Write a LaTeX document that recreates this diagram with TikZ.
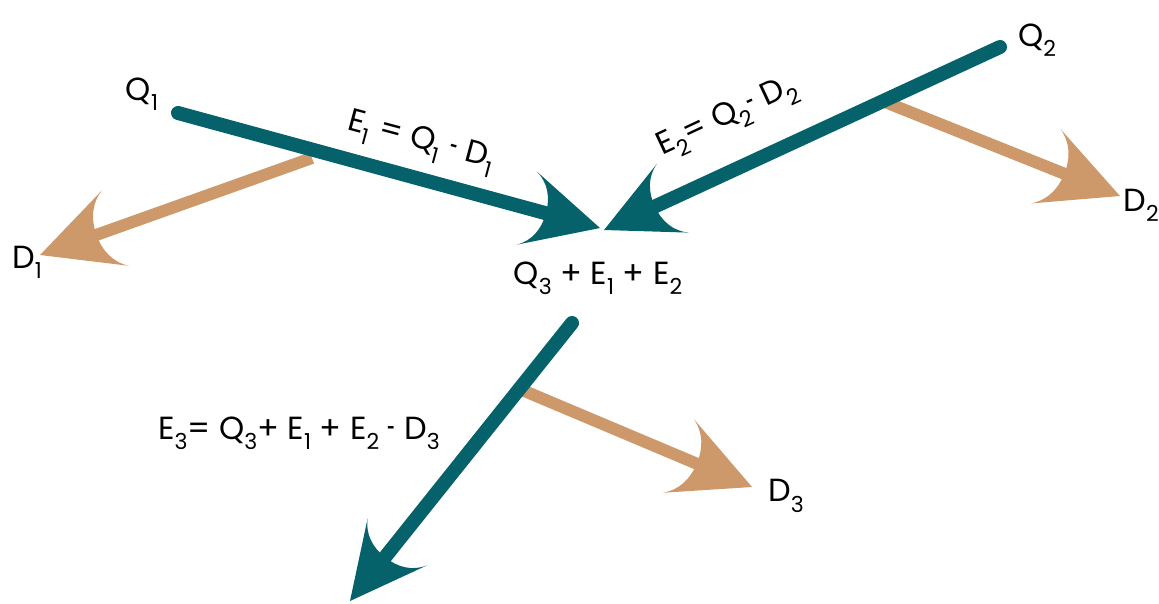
\documentclass[tikz,border=0pt]{standalone}
\usepackage{fontspec}
\setmainfont{Poppins}
\usetikzlibrary{calc}
\definecolor{tealc}{RGB}{5,97,106}
\definecolor{tanc}{RGB}{205,153,107}
\newcommand{\sbx}[1]{\raisebox{-0.32em}{\fontsize{22}{24}\selectfont #1}}
\newcommand{\mn}{\scalebox{0.45}[1]{-}}
\tikzset{
  lbl/.style={font=\fontsize{32}{36}\selectfont, inner sep=0pt},
  eline/.style={line width=14pt, color=tealc, line cap=round},
  dline/.style={line width=12pt, color=tanc},
  pics/head/.style={code={
    \fill[#1] (0pt,0pt) -- (-76pt,38pt) .. controls (-62pt,30pt) and (-56pt,16pt) .. (-56pt,0pt)
      .. controls (-56pt,-16pt) and (-62pt,-30pt) .. (-76pt,-38pt) -- cycle;
  }},
  pics/dhead/.style={code={
    \fill[#1] (0pt,0pt) -- (-80pt,40pt) .. controls (-66pt,31pt) and (-60pt,17pt) .. (-60pt,0pt)
      .. controls (-60pt,-17pt) and (-66pt,-31pt) .. (-80pt,-40pt) -- cycle;
  }}
}
\begin{document}
\begin{tikzpicture}[x=1pt,y=-1pt]
\useasboundingbox (0,0) rectangle (1159,603);
% coordinates
\coordinate (q1s) at (178,113);
\coordinate (c1) at (600,228);
\coordinate (q2s) at (1000,47);
\coordinate (c2) at (604,230);
\coordinate (q3s) at (572,323);
\coordinate (c3) at (350,601);
\coordinate (d1s) at (312,158);
\coordinate (d1t) at (40,255);
\coordinate (d2s) at (885,102);
\coordinate (d2t) at (1120,196);
\coordinate (d3s) at (522,390);
\coordinate (d3t) at (752,487);
% tan arrows (below)
\draw[dline, shorten >=45pt] (d1s) -- (d1t);
\path let \p1=($(d1t)-(d1s)$), \n1={atan2(\y1,\x1)} in pic[rotate=\n1] at (d1t) {dhead=tanc};
\draw[dline, shorten >=45pt] (d2s) -- (d2t);
\path let \p1=($(d2t)-(d2s)$), \n1={atan2(\y1,\x1)} in pic[rotate=\n1] at (d2t) {dhead=tanc};
\draw[dline, shorten >=45pt] (d3s) -- (d3t);
\path let \p1=($(d3t)-(d3s)$), \n1={atan2(\y1,\x1)} in pic[rotate=\n1] at (d3t) {dhead=tanc};
% teal arrows
\draw[eline, shorten >=40pt] (q1s) -- (c1);
\path let \p1=($(c1)-(q1s)$), \n1={atan2(\y1,\x1)} in pic[rotate=\n1] at (c1) {head=tealc};
\draw[eline, shorten >=40pt] (q2s) -- (c2);
\path let \p1=($(c2)-(q2s)$), \n1={atan2(\y1,\x1)} in pic[rotate=\n1] at (c2) {head=tealc};
\draw[eline, shorten >=40pt] (q3s) -- (c3);
\path let \p1=($(c3)-(q3s)$), \n1={atan2(\y1,\x1)} in pic[rotate=\n1] at (c3) {head=tealc};
% labels
\node[lbl] (lq1) at (142,94) {Q\sbx{1}};
\node[lbl] (lq2) at (1037,40) {Q\sbx{2}};
\node[lbl] (ld1) at (27,262) {D\sbx{1}};
\node[lbl] (ld2) at (1141,205) {D\sbx{2}};
\node[lbl] (ld3) at (786,496) {D\sbx{3}};
\node[lbl] (lc) at (598,278) {Q\sbx{3} + E\sbx{1} + E\sbx{2}};
\node[lbl, rotate=-15] (le1) at (421,143) {E\sbx{1} = Q\sbx{1} \mn{} D\sbx{1}};
\node[lbl, rotate=25] (le2) at (728,118) {E\sbx{2}= Q\sbx{2}\mn{} D\sbx{2}};
\node[lbl] (le3) at (299,433) {E\sbx{3}= Q\sbx{3}+ E\sbx{1} + E\sbx{2} \mn{} D\sbx{3}};
\end{tikzpicture}
\end{document}
